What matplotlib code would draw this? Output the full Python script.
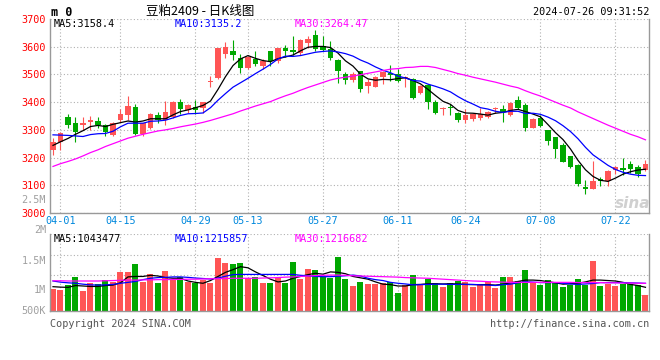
import numpy as np
import matplotlib
matplotlib.use('Agg')
import matplotlib.pyplot as plt

# daily candles 03-29 .. 07-26 (80 trading days)
opens = [3226, 3255, 3346, 3325, 3317, 3330, 3332, 3316, 3280, 3334,
         3355, 3382, 3286, 3308, 3355, 3337, 3345, 3401, 3373, 3384,
         3379, 3472, 3486, 3573, 3586, 3558, 3523, 3555, 3529, 3585,
         3547, 3594, 3587, 3579, 3614, 3644, 3602, 3591, 3552, 3501,
         3481, 3513, 3460, 3456, 3492, 3505, 3501, 3486, 3483, 3432,
         3462, 3400, 3376, 3383, 3362, 3335, 3338, 3343, 3346, 3374,
         3376, 3352, 3406, 3390, 3307, 3343, 3301, 3275, 3245, 3206,
         3174, 3094, 3087, 3124, 3114, 3156, 3164, 3176, 3165, 3156]
highs = [3269, 3291, 3358, 3346, 3346, 3349, 3346, 3320, 3328, 3374,
         3422, 3394, 3326, 3362, 3364, 3403, 3404, 3412, 3393, 3406,
         3402, 3495, 3596, 3617, 3624, 3573, 3566, 3585, 3555, 3586,
         3595, 3605, 3638, 3627, 3640, 3662, 3640, 3620, 3557, 3507,
         3509, 3514, 3483, 3495, 3513, 3533, 3521, 3495, 3486, 3461,
         3464, 3406, 3382, 3394, 3364, 3376, 3360, 3378, 3367, 3382,
         3390, 3400, 3421, 3398, 3343, 3355, 3301, 3275, 3251, 3206,
         3176, 3120, 3188, 3129, 3156, 3170, 3200, 3188, 3174, 3192]
lows = [3210, 3226, 3305, 3256, 3299, 3301, 3307, 3279, 3278, 3329,
        3337, 3283, 3279, 3303, 3323, 3316, 3343, 3358, 3362, 3358,
        3362, 3454, 3484, 3560, 3553, 3505, 3521, 3531, 3521, 3529,
        3543, 3564, 3569, 3569, 3596, 3585, 3585, 3552, 3469, 3465,
        3471, 3438, 3433, 3455, 3465, 3477, 3471, 3453, 3412, 3428,
        3374, 3358, 3352, 3352, 3329, 3323, 3331, 3335, 3343, 3362,
        3329, 3350, 3374, 3295, 3305, 3311, 3245, 3198, 3183, 3162,
        3096, 3070, 3087, 3096, 3099, 3140, 3138, 3144, 3129, 3152]
closes = [3257, 3289, 3316, 3294, 3324, 3336, 3318, 3292, 3326, 3357,
          3386, 3286, 3325, 3358, 3336, 3365, 3402, 3375, 3390, 3370,
          3401, 3476, 3594, 3600, 3570, 3524, 3564, 3537, 3549, 3547,
          3594, 3585, 3582, 3626, 3629, 3591, 3588, 3561, 3511, 3481,
          3501, 3448, 3471, 3489, 3507, 3498, 3477, 3491, 3415, 3458,
          3400, 3362, 3379, 3380, 3335, 3352, 3358, 3358, 3364, 3377,
          3364, 3398, 3379, 3305, 3340, 3313, 3260, 3230, 3183, 3166,
          3106, 3085, 3114, 3114, 3150, 3165, 3156, 3160, 3142, 3176]

ma5 = [3244, 3257, 3269, 3284, 3297, 3312, 3316, 3312, 3320, 3326,
       3332, 3328, 3332, 3340, 3340, 3340, 3354, 3366, 3372, 3380,
       3388, 3404, 3446, 3492, 3532, 3556, 3568, 3558, 3550, 3546,
       3557, 3563, 3570, 3585, 3598, 3601, 3601, 3597, 3577, 3549,
       3530, 3501, 3484, 3479, 3482, 3481, 3485, 3488, 3478, 3466,
       3446, 3424, 3403, 3392, 3370, 3361, 3360, 3357, 3353, 3360,
       3363, 3370, 3374, 3366, 3357, 3347, 3319, 3290, 3265, 3231,
       3190, 3156, 3132, 3118, 3114, 3126, 3140, 3149, 3155, 3158]
ma10 = [3282, 3281, 3280, 3278, 3276, 3283, 3286, 3287, 3295, 3311,
        3324, 3324, 3324, 3331, 3332, 3335, 3343, 3352, 3358, 3359,
        3361, 3380, 3407, 3431, 3454, 3470, 3486, 3503, 3519, 3536,
        3556, 3566, 3565, 3568, 3574, 3580, 3583, 3585, 3581, 3575,
        3566, 3552, 3541, 3527, 3515, 3506, 3494, 3487, 3478, 3476,
        3465, 3457, 3448, 3437, 3420, 3405, 3393, 3380, 3375, 3367,
        3363, 3367, 3367, 3359, 3360, 3356, 3346, 3333, 3315, 3294,
        3268, 3237, 3210, 3191, 3172, 3157, 3147, 3140, 3136, 3135]
ma30 = [3168, 3178, 3186, 3195, 3206, 3218, 3228, 3240, 3250, 3260,
        3270, 3277, 3284, 3290, 3296, 3300, 3305, 3311, 3316, 3321,
        3327, 3334, 3342, 3350, 3358, 3368, 3377, 3386, 3394, 3402,
        3413, 3423, 3432, 3443, 3453, 3462, 3471, 3480, 3486, 3490,
        3494, 3499, 3504, 3509, 3514, 3519, 3521, 3525, 3526, 3529,
        3529, 3525, 3518, 3511, 3503, 3497, 3490, 3484, 3478, 3472,
        3465, 3458, 3452, 3441, 3431, 3422, 3411, 3400, 3389, 3379,
        3365, 3353, 3341, 3329, 3317, 3306, 3295, 3284, 3275, 3264]

# volume, thousands of lots
vol_k = [968, 924, 1144, 1496, 880, 1232, 1175, 1364, 1289, 1716,
         1716, 2068, 1276, 1615, 1232, 1773, 1364, 1496, 1276, 1232,
         1364, 1232, 2332, 2112, 2068, 2112, 1465, 1496, 1232, 1232,
         1452, 1232, 2156, 1408, 1848, 1804, 1496, 1465, 2376, 1408,
         1100, 1276, 1188, 1188, 1232, 1276, 792, 1144, 1584, 1188,
         1408, 1232, 1056, 1232, 1320, 1276, 1056, 1144, 1276, 1012,
         1496, 1496, 1320, 1804, 1276, 1144, 1364, 1276, 1056, 1144,
         1408, 1144, 2200, 1100, 1201, 1100, 1201, 1201, 1144, 704]
vma5_k = [1070, 1050, 1040, 1120, 1100, 1080, 1080, 1120, 1140, 1240,
          1500, 1520, 1520, 1570, 1540, 1470, 1440, 1440, 1320, 1260,
          1220, 1340, 1520, 1700, 1820, 1950, 1900, 1720, 1560, 1400,
          1280, 1320, 1440, 1520, 1600, 1660, 1620, 1720, 1700, 1640,
          1520, 1460, 1400, 1280, 1180, 1160, 1100, 1100, 1160, 1170,
          1200, 1200, 1190, 1200, 1190, 1170, 1160, 1160, 1160, 1140,
          1180, 1240, 1300, 1360, 1360, 1340, 1290, 1240, 1180, 1200,
          1220, 1280, 1360, 1360, 1340, 1320, 1260, 1170, 1120, 1043]
vma10_k = [1320, 1270, 1240, 1220, 1180, 1150, 1140, 1150, 1170, 1220,
           1260, 1300, 1380, 1440, 1470, 1480, 1500, 1500, 1480, 1450,
           1430, 1410, 1450, 1530, 1600, 1610, 1610, 1610, 1610, 1610,
           1610, 1610, 1610, 1570, 1550, 1520, 1510, 1510, 1530, 1550,
           1580, 1540, 1440, 1380, 1340, 1260, 1220, 1190, 1150, 1160,
           1170, 1180, 1180, 1170, 1170, 1170, 1170, 1150, 1140, 1120,
           1160, 1180, 1240, 1290, 1270, 1250, 1250, 1250, 1220, 1190,
           1170, 1190, 1210, 1250, 1250, 1250, 1250, 1240, 1230, 1216]
vma30_k = [1330, 1330, 1320, 1320, 1320, 1320, 1320, 1330, 1340, 1350,
           1360, 1360, 1370, 1370, 1380, 1380, 1390, 1390, 1400, 1400,
           1410, 1420, 1420, 1430, 1440, 1440, 1440, 1440, 1450, 1460,
           1470, 1490, 1500, 1520, 1540, 1560, 1570, 1580, 1580, 1570,
           1550, 1540, 1530, 1520, 1510, 1500, 1490, 1470, 1460, 1450,
           1440, 1420, 1400, 1380, 1360, 1340, 1320, 1310, 1290, 1280,
           1270, 1260, 1260, 1260, 1260, 1260, 1260, 1260, 1260, 1260,
           1250, 1250, 1250, 1250, 1240, 1240, 1230, 1230, 1220, 1217]

tick_pos = [1, 9, 19, 26, 36, 46, 55, 65, 75]
tick_labels = ['04-01', '04-15', '04-29', '05-13', '05-27', '06-11', '06-24', '07-08', '07-22']
price_ticks = [3000, 3100, 3200, 3300, 3400, 3500, 3600, 3700]

RED = '#ff5555'
GREEN = '#00a800'
GRID = '#b0b0b0'
EDGE = '#999999'
MONO = 'DejaVu Sans Mono'
FS = 7.3

W, H = 660, 360
def px(x, y):
    return x / W, 1 - y / H

o = np.array(opens); c = np.array(closes)
x = np.arange(len(c))
cols = np.where(c >= o, RED, GREEN)
vols = np.array(vol_k) * 1000

fig = plt.figure(figsize=(6.6, 3.6), dpi=100)
ax = fig.add_axes([50 / W, 1 - 213 / H, 599 / W, 194 / H])
axv = fig.add_axes([50 / W, 1 - 311 / H, 599 / W, 77 / H])

dots = (0, (1, 2))
for a in (ax, axv):
    a.set_xlim(-0.4, 79.47)
    a.spines['top'].set_visible(False)
    for s in ('left', 'right', 'bottom'):
        a.spines[s].set_color(EDGE)
        a.spines[s].set_linewidth(1)
    a.set_axisbelow(True)
    a.set_xticks(tick_pos)
    a.xaxis.grid(True, linestyle=dots, color=GRID, lw=0.8)
    a.tick_params(length=0)

# price panel
ax.set_ylim(3000, 3700)
ax.set_yticks(price_ticks)
ax.yaxis.grid(True, linestyle=dots, color=GRID, lw=0.8)
ax.tick_params(axis='y', labelcolor='#ff0000', labelsize=FS, pad=3)
ax.tick_params(axis='x', labelcolor='#0088dd', labelsize=FS, pad=2.5)
ax.set_xticklabels(tick_labels, family=MONO)
for t in ax.get_yticklabels():
    t.set_family(MONO)

ax.vlines(x, lows, highs, colors=cols, lw=0.8, zorder=2)
body_lo = np.minimum(o, c)
body_h = np.maximum(np.abs(c - o), 3.6)
ax.bar(x, body_h, bottom=body_lo, width=0.75, color=cols, lw=0, zorder=3)
ax.plot(x, ma5, color='black', lw=0.9, zorder=4)
ax.plot(x, ma10, color='#0000ff', lw=0.9, zorder=4)
ax.plot(x, ma30, color='#ff00ff', lw=0.9, zorder=4)

# volume panel
axv.set_ylim(0, 3388000)
axv.set_yticks([])
axv.set_xticklabels([])
for f in (0.208, 0.468, 0.727, 1.0):
    axv.plot([0, 1], [f, f], transform=axv.transAxes, ls=dots, color=GRID, lw=0.8, zorder=0)
axv.bar(x, vols, width=0.8, color=cols, lw=0, zorder=2)
axv.plot(x, np.array(vma5_k) * 1000, color='black', lw=0.9, zorder=3)
axv.plot(x, np.array(vma10_k) * 1000, color='#0000ff', lw=0.9, zorder=3)
axv.plot(x, np.array(vma30_k) * 1000, color='#ff00ff', lw=0.9, zorder=3)

# texts
fig.text(*px(51, 12), 'm 0', family=MONO, weight='bold', fontsize=8.5, va='center')
fig.text(*px(200, 11), '豆粕2409 - 日K线图', family=['Noto Sans CJK SC', 'DejaVu Sans'],
         fontsize=9, ha='center', va='center')
fig.text(*px(649, 12), '2024-07-26 09:31:52', family=MONO, fontsize=FS, ha='right', va='center')

fig.text(*px(54, 24), 'MA5:3158.4', family=MONO, fontsize=FS, color='black', va='center')
fig.text(*px(175, 24), 'MA10:3135.2', family=MONO, fontsize=FS, color='#0000ff', va='center')
fig.text(*px(295, 24), 'MA30:3264.47', family=MONO, fontsize=FS, color='#ff00ff', va='center')

fig.text(*px(54, 239), 'MA5:1043477', family=MONO, fontsize=FS, color='black', va='center')
fig.text(*px(175, 239), 'MA10:1215857', family=MONO, fontsize=FS, color='#0000ff', va='center')
fig.text(*px(295, 239), 'MA30:1216682', family=MONO, fontsize=FS, color='#ff00ff', va='center')

for lab, yy in [('2.5M', 200), ('2M', 230), ('1.5M', 261), ('1M', 290), ('500K', 311)]:
    fig.text(*px(46, yy), lab, family=MONO, fontsize=FS, color='#a0a0a0', ha='right', va='center')

fig.text(*px(50, 324), 'Copyright 2024 SINA.COM', family=MONO, fontsize=FS, color='#555555', va='center')
fig.text(*px(649, 324), 'http://finance.sina.com.cn', family=MONO, fontsize=FS, color='#555555',
         ha='right', va='center')
fig.text(*px(633, 203), 'sina', fontsize=11, style='italic', weight='bold', color='#d0d0d0',
         ha='center', va='center')

fig.savefig('out.png', dpi=100)
